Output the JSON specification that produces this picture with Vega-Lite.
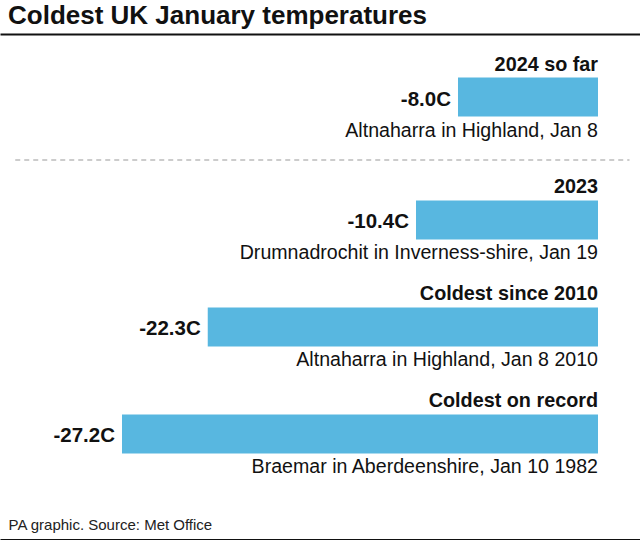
{
  "$schema": "https://vega.github.io/schema/vega-lite/v6.json",
  "padding": {"top": 3, "left": 0, "right": 0, "bottom": 0},
  "autosize": {"type": "pad"},
  "bounds": "flush",
  "spacing": 0,
  "title": {
    "text": "Coldest UK January temperatures",
    "anchor": "start",
    "frame": "group",
    "dx": 8,
    "offset": 5,
    "font": "Liberation Sans",
    "fontSize": 26,
    "fontWeight": "bold",
    "color": "#111111"
  },
  "vconcat": [
    {
      "width": 640,
      "height": 126,
      "data": {"values": [
        {"label": "2024 so far", "temp": -8.0, "value": "-8.0C", "caption": "Altnaharra in Highland, Jan 8"}
      ]},
      "encoding": {
        "y": {"field": "label", "type": "nominal", "axis": null, "scale": {"paddingInner": 0, "paddingOuter": 0}}
      },
      "layer": [
        {
          "mark": {"type": "bar", "height": 39, "color": "#58b7e0"},
          "encoding": {
            "x": {"field": "temp", "type": "quantitative", "scale": {"domain": [-34.171, 2.4], "nice": false, "zero": false},
              "axis": {"orient": "top", "labels": false, "ticks": false, "grid": false, "title": null, "domainColor": "#111111", "domainWidth": 2}},
            "x2": {"datum": 0}
          }
        },
        {
          "mark": {"type": "text", "align": "right", "baseline": "alphabetic", "dx": -7, "dy": 8.5, "font": "Liberation Sans", "fontSize": 20.5, "fontWeight": "bold", "color": "#111111"},
          "encoding": {
            "x": {"field": "temp", "type": "quantitative"},
            "text": {"field": "value"}
          }
        },
        {
          "mark": {"type": "text", "align": "right", "baseline": "alphabetic", "dy": -26.5, "font": "Liberation Sans", "fontSize": 19.8, "fontWeight": "bold", "color": "#111111"},
          "encoding": {
            "x": {"datum": 0},
            "text": {"field": "label"}
          }
        },
        {
          "mark": {"type": "text", "align": "right", "baseline": "alphabetic", "dy": 40, "font": "Liberation Sans", "fontSize": 19.6, "color": "#111111"},
          "encoding": {
            "x": {"datum": 0},
            "text": {"field": "caption"}
          }
        },
        {
          "mark": {"type": "rule", "color": "#9a9a9a", "strokeWidth": 1.2, "strokeDash": [5, 4]},
          "encoding": {
            "x": {"datum": -33.3},
            "x2": {"datum": 1.8},
            "y": {"field": "label", "type": "nominal", "bandPosition": 1}
          }
        }
      ]
    },
    {
      "width": 640,
      "height": 380,
      "data": {"values": [
        {"label": "2023", "temp": -10.4, "value": "-10.4C", "caption": "Drumnadrochit in Inverness-shire, Jan 19"},
        {"label": "Coldest since 2010", "temp": -22.3, "value": "-22.3C", "caption": "Altnaharra in Highland, Jan 8 2010"},
        {"label": "Coldest on record", "temp": -27.2, "value": "-27.2C", "caption": "Braemar in Aberdeenshire, Jan 10 1982"}
      ]},
      "encoding": {
        "y": {"field": "label", "type": "nominal", "axis": null, "sort": null,
          "scale": {"domain": ["2023", "Coldest since 2010", "Coldest on record"], "paddingInner": 0, "paddingOuter": 0.2757, "align": 0.11}}
      },
      "layer": [
        {
          "mark": {"type": "bar", "height": 39, "color": "#58b7e0"},
          "encoding": {
            "x": {"field": "temp", "type": "quantitative", "scale": {"domain": [-34.171, 2.4], "nice": false, "zero": false},
              "axis": {"orient": "bottom", "labels": false, "ticks": false, "grid": false, "domainColor": "#111111", "domainWidth": 3,
                "title": "PA graphic. Source: Met Office", "titleAnchor": "start", "titleAlign": "left", "titleX": 8, "titleY": -11,
                "titleBaseline": "alphabetic", "titleFont": "Liberation Sans", "titleFontSize": 15, "titleFontWeight": "normal", "titleColor": "#222222"}},
            "x2": {"datum": 0}
          }
        },
        {
          "mark": {"type": "text", "align": "right", "baseline": "alphabetic", "dx": -7, "dy": 8.5, "font": "Liberation Sans", "fontSize": 20.5, "fontWeight": "bold", "color": "#111111"},
          "encoding": {
            "x": {"field": "temp", "type": "quantitative"},
            "text": {"field": "value"}
          }
        },
        {
          "mark": {"type": "text", "align": "right", "baseline": "alphabetic", "dy": -27, "font": "Liberation Sans", "fontSize": 19.8, "fontWeight": "bold", "color": "#111111"},
          "encoding": {
            "x": {"datum": 0},
            "text": {"field": "label"}
          }
        },
        {
          "mark": {"type": "text", "align": "right", "baseline": "alphabetic", "dy": 39.5, "font": "Liberation Sans", "fontSize": 19.6, "color": "#111111"},
          "encoding": {
            "x": {"datum": 0},
            "text": {"field": "caption"}
          }
        }
      ]
    }
  ],
  "config": {"view": {"stroke": null}}
}
